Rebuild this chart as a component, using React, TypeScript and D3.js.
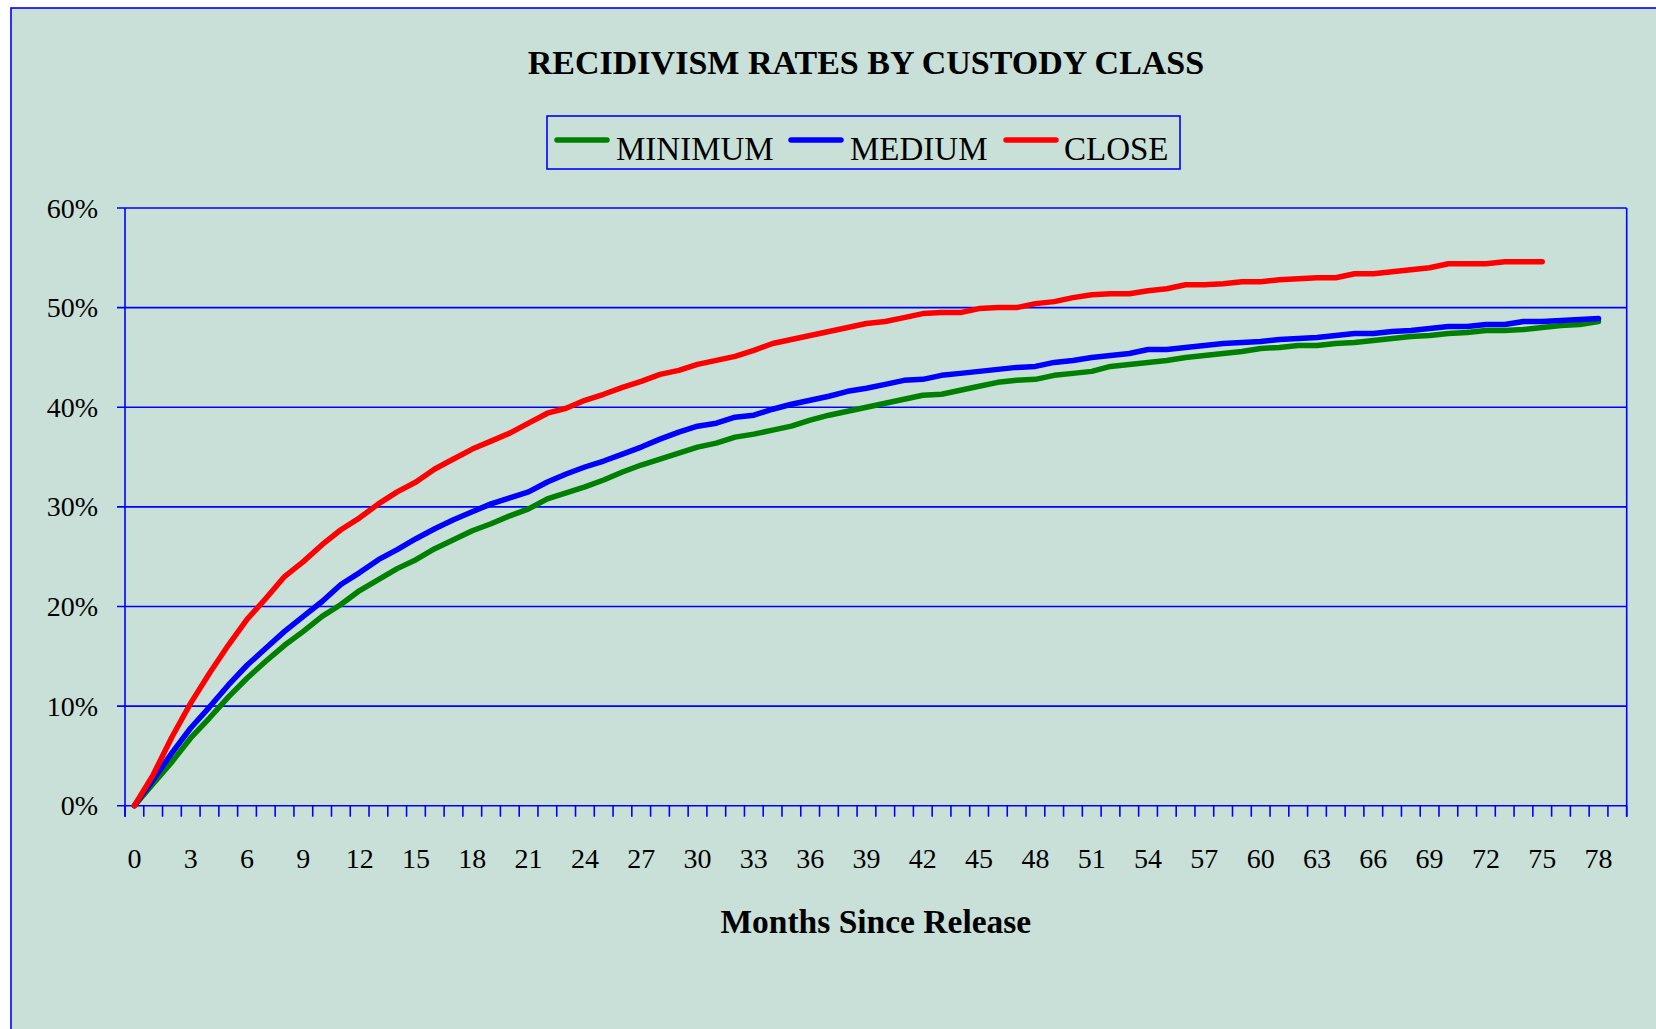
import React from 'react';
import * as d3 from 'd3';

// months since release, one category per month (axis has room for 0..79)
const months = d3.range(0, 80);
const tickMonths = d3.range(0, 79, 3);
const yTicks = [0, 10, 20, 30, 40, 50, 60];

// recidivism rate (%) by month
const minimum = [
  0, 2.2, 4.4, 6.8, 8.8, 10.9, 12.8, 14.5, 16.1, 17.5, 19.0, 20.2, 21.6, 22.7, 23.8, 24.7,
  25.8, 26.7, 27.6, 28.3, 29.1, 29.8, 30.8, 31.4, 32.0, 32.7, 33.5, 34.2, 34.8, 35.4, 36.0,
  36.4, 37.0, 37.3, 37.7, 38.1, 38.7, 39.2, 39.6, 40.0, 40.4, 40.8, 41.2, 41.3, 41.7, 42.1,
  42.5, 42.7, 42.8, 43.2, 43.4, 43.6, 44.1, 44.3, 44.5, 44.7, 45.0, 45.2, 45.4, 45.6, 45.9,
  46.0, 46.2, 46.2, 46.4, 46.5, 46.7, 46.9, 47.1, 47.2, 47.4, 47.5, 47.7, 47.7, 47.8, 48.0,
  48.2, 48.3, 48.6,
];
const medium = [
  0, 2.6, 5.3, 7.8, 9.9, 12.1, 14.1, 15.8, 17.5, 19.0, 20.5, 22.2, 23.4, 24.7, 25.7, 26.8,
  27.8, 28.7, 29.5, 30.3, 30.9, 31.5, 32.5, 33.3, 34.0, 34.6, 35.3, 36.0, 36.8, 37.5, 38.1,
  38.4, 39.0, 39.2, 39.8, 40.3, 40.7, 41.1, 41.6, 41.9, 42.3, 42.7, 42.8, 43.2, 43.4, 43.6,
  43.8, 44.0, 44.1, 44.5, 44.7, 45.0, 45.2, 45.4, 45.8, 45.8, 46.0, 46.2, 46.4, 46.5, 46.6,
  46.8, 46.9, 47.0, 47.2, 47.4, 47.4, 47.6, 47.7, 47.9, 48.1, 48.1, 48.3, 48.3, 48.6, 48.6,
  48.7, 48.8, 48.9,
];
const close = [
  0, 3.1, 6.9, 10.3, 13.3, 16.1, 18.7, 20.8, 23.0, 24.5, 26.2, 27.7, 28.9, 30.3, 31.5, 32.5,
  33.8, 34.8, 35.8, 36.6, 37.4, 38.4, 39.4, 39.9, 40.7, 41.3, 42.0, 42.6, 43.3, 43.7, 44.3,
  44.7, 45.1, 45.7, 46.4, 46.8, 47.2, 47.6, 48.0, 48.4, 48.6, 49.0, 49.4, 49.5, 49.5, 49.9,
  50.0, 50.0, 50.4, 50.6, 51.0, 51.3, 51.4, 51.4, 51.7, 51.9, 52.3, 52.3, 52.4, 52.6, 52.6,
  52.8, 52.9, 53.0, 53.0, 53.4, 53.4, 53.6, 53.8, 54.0, 54.4, 54.4, 54.4, 54.6, 54.6, 54.6,
];

const seriesNames = ['MINIMUM', 'MEDIUM', 'CLOSE'];
const seriesColors = ['#008000', '#0000FF', '#FF0000'];
const seriesValues = [minimum, medium, close];

const W = 1656;
const H = 1029;
const plot = { left: 125, right: 1626.7, top: 208, bottom: 805.7 };
const axisColor = '#0000FF';
const font = '"Liberation Serif", "Times New Roman", serif';

export default function App() {
  const x = d3.scaleBand<number>()
    .domain(months)
    .range([plot.left, plot.right])
    .paddingInner(0)
    .paddingOuter(0);
  const y = d3.scaleLinear().domain([0, 60]).range([plot.bottom, plot.top]);
  const cx = (m: number) => (x(m) as number) + x.bandwidth() / 2;

  const line = d3.line<number>()
    .x((d, i) => cx(months[i]))
    .y(d => y(d));

  const boundaries = months.map(m => x(m) as number).concat([plot.right]);

  // legend layout
  const legend = { x: 547, y: 116, w: 633, h: 53 };
  const legendItems = [
    { lx: 557, tx: 616 },
    { lx: 791, tx: 850 },
    { lx: 1006, tx: 1064 },
  ];

  return (
    <svg width={W} height={H} style={{ position: 'absolute', left: 0, top: 0 }} fontFamily={font}>
      <rect x={0} y={0} width={W} height={H} fill="#ffffff" />
      <rect x={11} y={8} width={W} height={H} fill="#C9E0D9" stroke={axisColor} strokeWidth={1.6} />

      <text x={866} y={74} textAnchor="middle" fontWeight="bold" fontSize={34} fill="#000">
        RECIDIVISM RATES BY CUSTODY CLASS
      </text>

      {/* legend */}
      <rect x={legend.x} y={legend.y} width={legend.w} height={legend.h} fill="none" stroke={axisColor} strokeWidth={1.6} />
      {seriesNames.map((name, i) => (
        <g key={name}>
          <line x1={legendItems[i].lx} x2={legendItems[i].lx + 50} y1={140} y2={140}
            stroke={seriesColors[i]} strokeWidth={5.5} strokeLinecap="round" />
          <text x={legendItems[i].tx} y={160} fontSize={33} fill="#000">{name}</text>
        </g>
      ))}

      {/* gridlines + y axis */}
      {yTicks.map(t => (
        <g key={t}>
          <line x1={plot.left - 8} x2={plot.right} y1={y(t)} y2={y(t)} stroke={axisColor} strokeWidth={1.6} />
          <text x={98} y={y(t) + 9.5} textAnchor="end" fontSize={28} fill="#000">{t}%</text>
        </g>
      ))}
      <line x1={plot.left} x2={plot.left} y1={plot.top} y2={plot.bottom + 11} stroke={axisColor} strokeWidth={1.6} />
      <line x1={plot.right} x2={plot.right} y1={plot.top} y2={plot.bottom + 11} stroke={axisColor} strokeWidth={1.6} />

      {/* x axis ticks between categories */}
      {boundaries.map((b, i) => (
        <line key={i} x1={b} x2={b} y1={plot.bottom} y2={plot.bottom + 11} stroke={axisColor} strokeWidth={1.6} />
      ))}
      {tickMonths.map(m => (
        <text key={m} x={cx(m)} y={867.5} textAnchor="middle" fontSize={28} fill="#000">{m}</text>
      ))}
      <text x={(plot.left + plot.right) / 2} y={933} textAnchor="middle" fontWeight="bold" fontSize={33.5} fill="#000">
        Months Since Release
      </text>

      {/* series */}
      {seriesValues.map((vals, i) => (
        <path key={seriesNames[i]} d={line(vals) || ''} fill="none" stroke={seriesColors[i]}
          strokeWidth={5.5} strokeLinejoin="round" strokeLinecap="round" />
      ))}
    </svg>
  );
}
